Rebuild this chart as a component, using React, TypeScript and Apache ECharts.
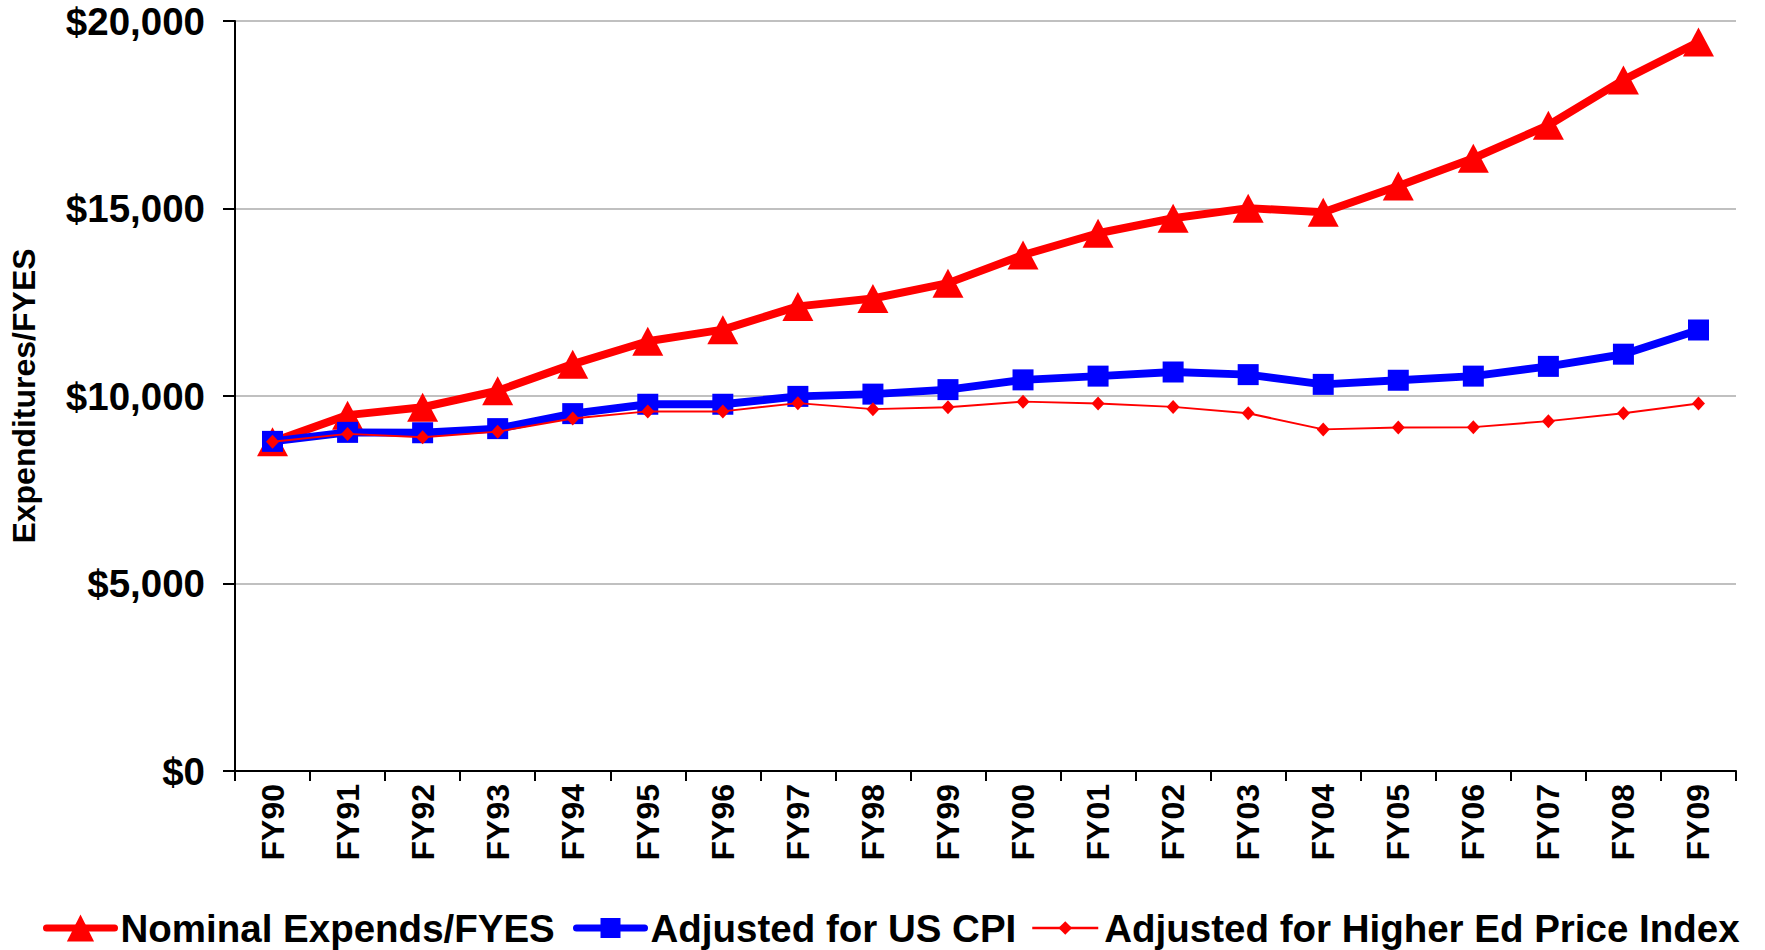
import React, { useEffect, useRef } from "react";
import * as echarts from "echarts";

const categories = ["FY90","FY91","FY92","FY93","FY94","FY95","FY96","FY97","FY98","FY99","FY00","FY01","FY02","FY03","FY04","FY05","FY06","FY07","FY08","FY09"];
const nominal = [8780, 9490, 9700, 10140, 10850, 11460, 11770, 12390, 12600, 13010, 13760, 14340, 14740, 15010, 14900, 15600, 16340, 17220, 18430, 19440];
const cpiAdjusted = [8790, 9030, 9020, 9130, 9530, 9780, 9780, 9990, 10050, 10170, 10430, 10530, 10640, 10570, 10310, 10420, 10530, 10790, 11115, 11760];
const hepiAdjusted = [8780, 8990, 8900, 9050, 9400, 9590, 9590, 9810, 9650, 9700, 9850, 9800, 9710, 9540, 9110, 9160, 9170, 9330, 9540, 9800];
const seriesNames = ["Nominal Expends/FYES", "Adjusted for US CPI", "Adjusted for Higher Ed Price Index"];
const yAxisName = "Expenditures/FYES";

const FONT = "'Liberation Sans', Arial, sans-serif";

const legendText = {
  fontFamily: FONT, fontWeight: "bold", fontSize: 38.5, lineHeight: 40, color: "#000", padding: [0, 0, 0, 1],
};

export default function App() {
  const ref = useRef<HTMLDivElement>(null);
  useEffect(() => {
    if (!ref.current) return;
    const chart = echarts.init(ref.current, undefined, { renderer: "svg" });
    chart.setOption({
      animation: false,
      backgroundColor: "#ffffff",
      grid: { left: 235, right: 29, top: 21, bottom: 179, containLabel: false },
      legend: [
        {
          left: 43, top: 908, padding: 0, itemWidth: 68, itemHeight: 34, itemGap: 0,
          textStyle: legendText,
          data: [{ name: seriesNames[0], lineStyle: { width: 7, cap: "round", color: "#FF0000" } }],
        },
        {
          left: 573, top: 908, padding: 0, itemWidth: 68, itemHeight: 25, itemGap: 0,
          textStyle: legendText,
          data: [{ name: seriesNames[1], lineStyle: { width: 7, cap: "round", color: "#0000FF" } }],
        },
        {
          left: 1031, top: 908, padding: 0, itemWidth: 66, itemHeight: 17, itemGap: 0,
          textStyle: legendText,
          data: [{ name: seriesNames[2], lineStyle: { width: 2.5, color: "#FF0000" } }],
        },
      ],
      xAxis: {
        type: "category",
        data: categories,
        boundaryGap: true,
        axisLine: { lineStyle: { color: "#000", width: 2 } },
        axisTick: { show: true, length: 10, inside: false, lineStyle: { color: "#000", width: 2 } },
        axisLabel: { rotate: 90, fontFamily: FONT, fontWeight: "bold", fontSize: 32, color: "#000", margin: 13, interval: 0 },
        splitLine: { show: false },
      },
      yAxis: {
        type: "value",
        min: 0,
        max: 20000,
        interval: 5000,
        name: yAxisName,
        nameLocation: "middle",
        nameGap: 195,
        nameRotate: 90,
        nameTextStyle: { fontFamily: FONT, fontWeight: "bold", fontSize: 32, color: "#000" },
        axisLine: { show: true, lineStyle: { color: "#000", width: 2 } },
        axisTick: { show: true, length: 12, lineStyle: { color: "#000", width: 2 } },
        axisLabel: {
          fontFamily: FONT, fontWeight: "bold", fontSize: 38.5, color: "#000", margin: 30,
          formatter: (v: number) => "$" + v.toLocaleString("en-US"),
        },
        splitLine: { show: true, lineStyle: { color: "#C0C0C0", width: 2 } },
      },
      series: [
        {
          name: seriesNames[0], type: "line", data: nominal,
          symbol: "triangle", symbolSize: [31, 29],
          lineStyle: { color: "#FF0000", width: 8 },
          itemStyle: { color: "#FF0000" },
          z: 3,
        },
        {
          name: seriesNames[1], type: "line", data: cpiAdjusted,
          symbol: "rect", symbolSize: 21,
          lineStyle: { color: "#0000FF", width: 8 },
          itemStyle: { color: "#0000FF" },
          z: 4,
        },
        {
          name: seriesNames[2], type: "line", data: hepiAdjusted,
          symbol: "diamond", symbolSize: [13, 14],
          lineStyle: { color: "#FF0000", width: 2 },
          itemStyle: { color: "#FF0000" },
          z: 5,
        },
      ],
    });
    return () => chart.dispose();
  }, []);
  return <div ref={ref} style={{ position: "fixed", left: 0, top: 0, width: 1765, height: 950 }} />;
}
